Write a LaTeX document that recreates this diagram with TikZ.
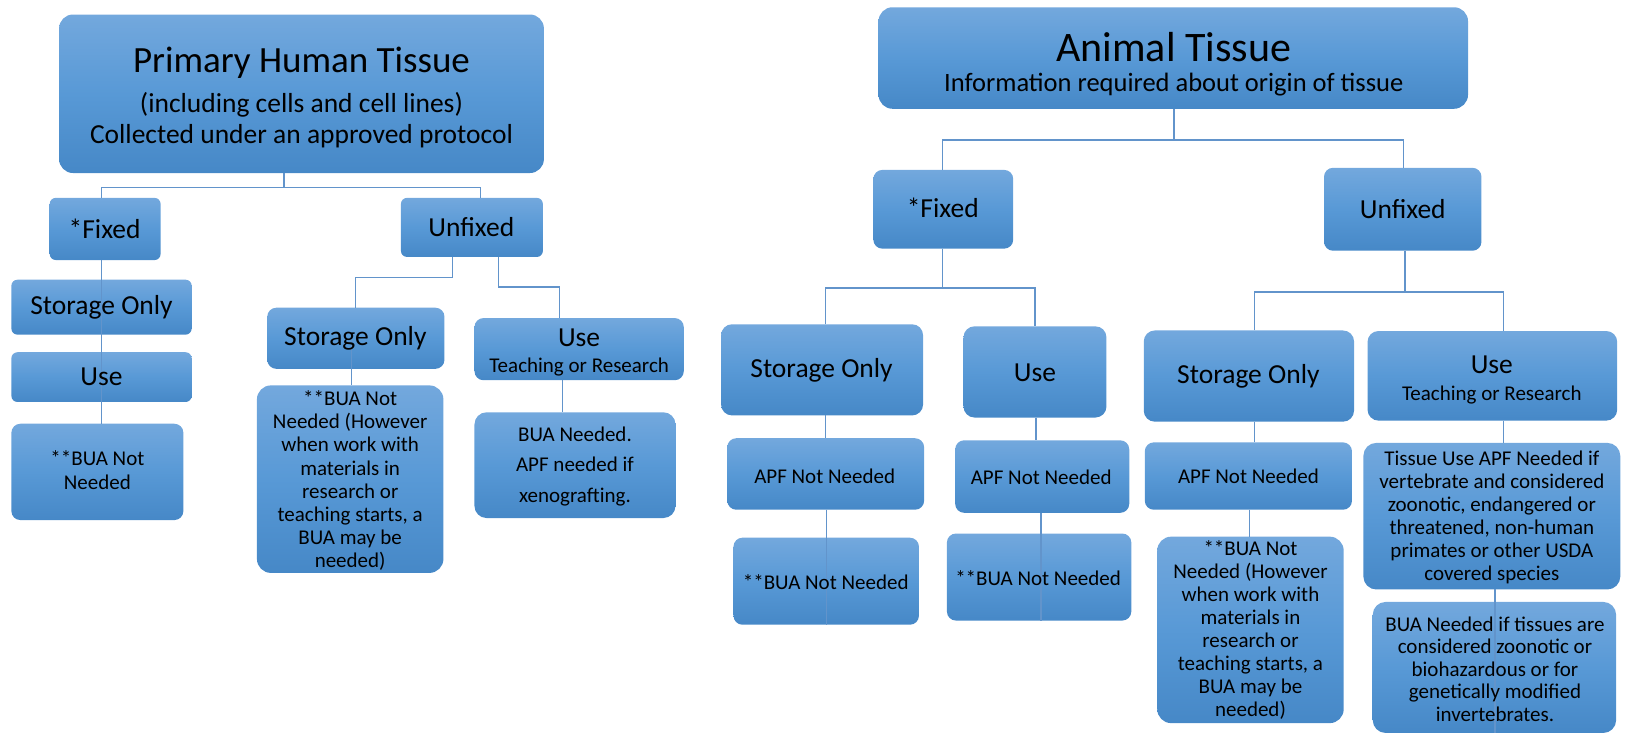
\documentclass[tikz,border=0pt]{standalone}
\usepackage{fontspec}
\setmainfont{Carlito}
\usetikzlibrary{fit}
\definecolor{bxtop}{RGB}{115,168,221}
\definecolor{bxmid}{RGB}{88,153,214}
\definecolor{bxbot}{RGB}{70,136,199}
\definecolor{lnc}{RGB}{98,148,203}
\tikzset{
  bx/.style={rounded corners=9pt, top color=bxtop, bottom color=bxbot, middle color=bxmid, draw=none, inner sep=0pt, outer sep=0pt},
  bigbx/.style={bx, rounded corners=14pt},
  smbx/.style={bx, rounded corners=6pt},
  ln/.style={draw=lnc, line width=1.4pt},
  tx/.style={align=center, inner sep=0pt, text=black},
  fA/.style={font=\fontsize{27.5}{31}\selectfont},
  fB/.style={font=\fontsize{21}{23}\selectfont},
}
\begin{document}
\begin{tikzpicture}[x=1.036pt,y=-1.036pt]
\useasboundingbox (0,0) rectangle (1569.5,708.5);
% ---------------- left boxes
\node[bigbx, fit={(57,14) (525,167)}] (pht) {};
\node[smbx, fit={(48,191) (155,251)}] (lfix) {};
\node[smbx, fit={(387,191) (524,248)}] (lunf) {};
\node[smbx, fit={(11,270) (185,323)}] (lsto) {};
\node[smbx, fit={(11,340) (185,388)}] (luse) {};
\node[bx, fit={(11,409) (177,502)}] (lbua) {};
\node[bx, fit={(258,297) (429,356)}] (msto) {};
\node[bx, fit={(458,307) (660,367)}] (muse) {};
\node[bx, rounded corners=14pt, fit={(248,372) (428,553)}] (mbua) {};
\node[bx, rounded corners=12pt, fit={(458,398) (652,500)}] (mbua2) {};
% ---------------- right boxes
\node[bigbx, fit={(848,7) (1417,105)}] (at) {};
\node[bx, fit={(843,164) (978,240)}] (rfix) {};
\node[bx, fit={(1278,162) (1430,242)}] (runf) {};
\node[bx, rounded corners=11pt, fit={(696,313) (891,401)}] (rsto) {};
\node[bx, rounded corners=11pt, fit={(930,315) (1068,403)}] (ruse) {};
\node[bx, fit={(702,423) (892,492)}] (rapf1) {};
\node[bx, fit={(922,425) (1090,495)}] (rapf2) {};
\node[bx, fit={(708,519) (887,603)}] (rbua1) {};
\node[bx, fit={(914,515) (1092,599)}] (rbua2) {};
\node[bx, rounded corners=11pt, fit={(1104,319) (1307,407)}] (usto) {};
\node[bx, rounded corners=11pt, fit={(1320,319.5) (1561,406)}] (uuse) {};
\node[bx, fit={(1105,427) (1305,492)}] (uapf) {};
\node[bx, rounded corners=14pt, fit={(1117,518) (1297,698)}] (ubua) {};
\node[bx, rounded corners=13pt, fit={(1316,427.5) (1564,569)}] (tuapf) {};
\node[bx, rounded corners=13pt, fit={(1325,581) (1560,707.5)}] (ubua2) {};
% ---------------- left connectors
\coordinate (a0) at (274,181);
\coordinate (a1) at (98,181);
\coordinate (a2) at (464,181);
\draw[ln] (pht.south -| a0) -- (a0);
\draw[ln] (lfix.north -| a1) -- (a1) -- (a2) -- (lunf.north -| a2);
\draw[ln] (lfix.south -| a1) -- (lbua.north -| a1);
\coordinate (b1) at (437,268);
\coordinate (b2) at (343,268);
\draw[ln] (lunf.south -| b1) -- (b1) -- (b2) -- (msto.north -| b2);
\coordinate (c1) at (481,277);
\coordinate (c2) at (540,277);
\draw[ln] (lunf.south -| c1) -- (c1) -- (c2) -- (muse.north -| c2);
\coordinate (d1) at (339,0);
\draw[ln] (msto.center -| d1) -- (mbua.north -| d1);
\coordinate (e1) at (543,0);
\draw[ln] (muse.south -| e1) -- (mbua2.north -| e1);
% ---------------- right connectors
\coordinate (f0) at (1133,135);
\coordinate (f1) at (910,135);
\coordinate (f2) at (1355,135);
\draw[ln] (at.south -| f0) -- (f0);
\draw[ln] (rfix.north -| f1) -- (f1) -- (f2) -- (runf.north -| f2);
\coordinate (g0) at (910,278);
\coordinate (g1) at (797,278);
\coordinate (g2) at (999,278);
\draw[ln] (rfix.south -| g0) -- (g0);
\draw[ln] (rsto.north -| g1) -- (g1) -- (g2) -- (ruse.north -| g2);
\draw[ln] (rsto.south -| g1) -- (rapf1.north -| g1);
\coordinate (h1) at (798,0);
\draw[ln] (rapf1.south -| h1) -- (rbua1.south -| h1);
\coordinate (h2) at (1000,0);
\draw[ln] (ruse.south -| h2) -- (rapf2.north -| h2);
\coordinate (h3) at (1005,0);
\draw[ln] (rapf2.south -| h3) -- (rbua2.south -| h3);
\coordinate (k0) at (1356,282);
\coordinate (k1) at (1211,282);
\coordinate (k2) at (1451,282);
\draw[ln] (runf.south -| k0) -- (k0);
\draw[ln] (usto.north -| k1) -- (k1) -- (k2) -- (uuse.north -| k2);
\draw[ln] (usto.south -| k1) -- (uapf.north -| k1);
\coordinate (m1) at (1206,0);
\draw[ln] (uapf.south -| m1) -- (ubua.north -| m1);
\draw[ln] (uuse.south -| k2) -- (tuapf.north -| k2);
\coordinate (m2) at (1443,0);
\draw[ln] (tuapf.south -| m2) -- (ubua2.south -| m2);
% ---------------- left texts
\node[tx, font=\fontsize{37}{40}\selectfont] (pht-t) at (291,61) {Primary Human Tissue};
\node[tx, font=\fontsize{27.5}{31.5}\selectfont] (pht-s) at (291,116) {(including cells and cell lines)\\Collected under an approved protocol};
\node[tx, fA] (lfix-t) at (101,221) {*Fixed};
\node[tx, fA] (lunf-t) at (455,219) {Unfixed};
\node[tx, fA] (lsto-t) at (98,297) {Storage Only};
\node[tx, fA] (luse-t) at (98,364) {Use};
\node[tx, font=\fontsize{21}{24}\selectfont] (lbua-t) at (94,454) {**BUA Not\\Needed};
\node[tx, fA] (msto-t) at (343,327) {Storage Only};
\node[tx, fA] (muse-t) at (559,326) {Use};
\node[tx, fB] (muse-s) at (559,354) {Teaching or Research};
\node[tx, font=\fontsize{21}{23.2}\selectfont] (mbua-t) at (338,464) {**BUA Not\\Needed (However\\when work with\\materials in\\research or\\teaching starts, a\\BUA may be\\needed)};
\node[tx, font=\fontsize{21}{30.5}\selectfont] (mbua2-t) at (555,450) {BUA Needed.\\APF needed if\\xenografting.};
% ---------------- right texts
\node[tx, font=\fontsize{42}{45}\selectfont] (at-t) at (1133,45) {Animal Tissue};
\node[tx, font=\fontsize{26.5}{30}\selectfont] (at-s) at (1133,82) {Information required about origin of tissue};
\node[tx, fA] (rfix-t) at (910,201) {*Fixed};
\node[tx, fA] (runf-t) at (1354,202) {Unfixed};
\node[tx, fA] (rsto-t) at (793,357) {Storage Only};
\node[tx, fA] (ruse-t) at (999,360) {Use};
\node[tx, fB] (rapf1-t) at (796,460) {APF Not Needed};
\node[tx, fB] (rapf2-t) at (1005,461) {APF Not Needed};
\node[tx, fB] (rbua1-t) at (797,562) {**BUA Not Needed};
\node[tx, fB] (rbua2-t) at (1002,558) {**BUA Not Needed};
\node[tx, fA] (usto-t) at (1205,363) {Storage Only};
\node[tx, fA] (uuse-t) at (1440,352) {Use};
\node[tx, fB] (uuse-s) at (1440,381) {Teaching or Research};
\node[tx, fB] (uapf-t) at (1205,460) {APF Not Needed};
\node[tx, font=\fontsize{21}{22.9}\selectfont] (ubua-t) at (1207,608) {**BUA Not\\Needed (However\\when work with\\materials in\\research or\\teaching starts, a\\BUA may be\\needed)};
\node[tx, font=\fontsize{21}{23}\selectfont] (tuapf-t) at (1440,499) {Tissue Use APF Needed if\\vertebrate and considered\\zoonotic, endangered or\\threatened, non-human\\primates or other USDA\\covered species};
\node[tx, font=\fontsize{21}{22.5}\selectfont] (ubua2-t) at (1443,646) {BUA Needed if tissues are\\considered zoonotic or\\biohazardous or for\\genetically modified\\invertebrates.};
\end{tikzpicture}
\end{document}
